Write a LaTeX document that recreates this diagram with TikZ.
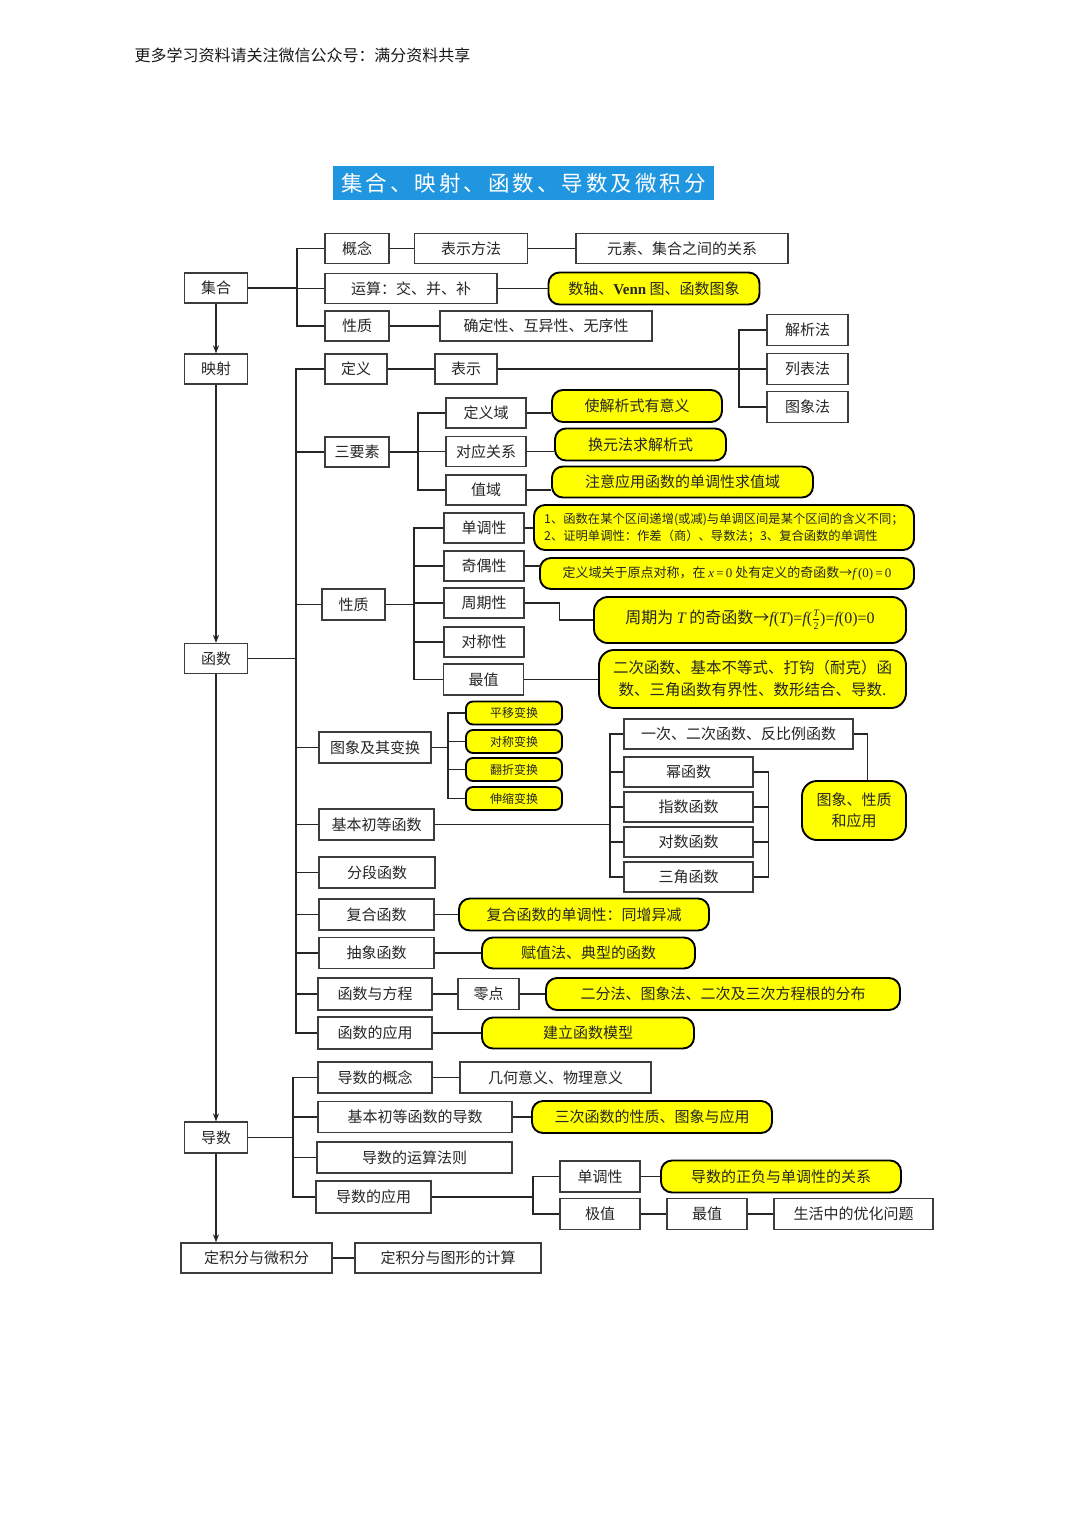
\documentclass[tikz,border=0pt]{standalone}
\usepackage{fontspec}
\setmainfont{Noto Sans CJK SC}
\newfontfamily\latinserif{Liberation Serif}
\newcommand\vi[1]{{\latinserif\itshape #1}}
\newcommand\vr[1]{{\latinserif #1}}
\usetikzlibrary{arrows.meta,calc}
\definecolor{titleblue}{RGB}{33,150,224}
\definecolor{hlyellow}{RGB}{255,255,0}
\definecolor{boxline}{RGB}{60,60,60}
\tikzset{
  sz/.style 2 args={minimum width=#1pt, minimum height=#2pt},
  plainbox/.style={draw=boxline, line width=1.3pt, fill=white, inner sep=0pt,
    font=\fontsize{15}{18}\selectfont, text=black!85},
  hlbox/.style={draw=black, line width=1.9pt, fill=hlyellow, rounded corners=11pt,
    inner sep=0pt, font=\fontsize{15}{18}\selectfont, text=black!85},
  smallhl/.style={hlbox, rounded corners=7pt, font=\fontsize{12}{14}\selectfont},
  conn/.style={draw=black!85, line width=1.3pt},
  mainarrow/.style={conn, -{Stealth[length=8pt,width=6pt]}},
}
\begin{document}
\begin{tikzpicture}[x=1pt,y=-1pt]
\fill[white] (0,0) rectangle (1080,1527);
\useasboundingbox (0,0) rectangle (1080,1527);

% header and title
\node[font=\fontsize{16}{19}\selectfont, text=black!90, inner sep=0pt] (header) at (302.5,55) {更多学习资料请关注微信公众号：满分资料共享};
\node[fill=titleblue, sz={381}{34}, inner sep=0pt, text=white,
  font=\fontsize{21.5}{24}\selectfont\addfontfeatures{LetterSpace=14}] (title) at (523.5,183) {集合、映射、函数、导数及微积分};

% main column
\node[plainbox, sz={63}{30}] (jihe) at (216,288) {集合};
\node[plainbox, sz={63}{30}] (yingshe) at (216,369) {映射};
\node[plainbox, sz={63}{30}] (hanshu) at (216,658.5) {函数};
\node[plainbox, sz={63}{31}] (daoshu) at (216,1137.5) {导数};
\node[plainbox, sz={151}{30}] (dingjifen) at (256.5,1258) {定积分与微积分};
\node[plainbox, sz={186}{30}] (txjs) at (448,1258) {定积分与图形的计算};

% set branch
\node[plainbox, sz={64}{30}] (gainian) at (357,248.5) {概念};
\node[plainbox, sz={113}{30}] (biaoshi1) at (471,248.5) {表示方法};
\node[plainbox, sz={212}{30}] (yuansu) at (682,248.5) {元素、集合之间的关系};
\node[plainbox, sz={172}{30}] (yunsuan) at (411,288.5) {运算：交、并、补};
\node[hlbox, sz={211}{32}] (yvenn) at (654,288.5) {数轴、{\latinserif\bfseries Venn} 图、函数图象};
\node[plainbox, sz={64}{30}] (xingzhi1) at (357,326) {性质};
\node[plainbox, sz={212}{30}] (queding) at (546,326) {确定性、互异性、无序性};

% mapping / definition
\node[plainbox, sz={62}{30}] (dingyi) at (356,369) {定义};
\node[plainbox, sz={62}{30}] (biaoshi2) at (466,369) {表示};
\node[plainbox, sz={81}{31}] (jiexi) at (807.5,330) {解析法};
\node[plainbox, sz={81}{31}] (liebiao) at (807.5,369) {列表法};
\node[plainbox, sz={81}{31}] (tuxfa) at (807.5,407) {图象法};

% three elements
\node[plainbox, sz={64}{30}] (sanyaosu) at (357,452) {三要素};
\node[plainbox, sz={80}{30}] (dingyiyu) at (486,413) {定义域};
\node[plainbox, sz={80}{30}] (duiying) at (486,451.5) {对应关系};
\node[plainbox, sz={80}{30}] (zhiyu) at (486,490) {值域};
\node[hlbox, sz={170}{32}] (yone) at (637,406) {使解析式有意义};
\node[hlbox, sz={171}{32}] (ytwo) at (640.5,444.5) {换元法求解析式};
\node[hlbox, sz={261}{31}] (ythree) at (682.5,482) {注意应用函数的单调性求值域};

% properties
\node[plainbox, sz={63}{31}] (xingzhi2) at (353.5,604.5) {性质};
\node[plainbox, sz={80}{30}] (dandiao) at (484,528) {单调性};
\node[plainbox, sz={80}{30}] (jiou) at (484,566) {奇偶性};
\node[plainbox, sz={80}{30}] (zhouqi) at (484,603) {周期性};
\node[plainbox, sz={80}{30}] (duicheng) at (484,642) {对称性};
\node[plainbox, sz={80}{31}] (zuizhi) at (483.5,679.5) {最值};
\node[hlbox, sz={380}{45}, align=left, font=\fontsize{12.3}{17}\selectfont] (yd) at (724,527.5)
  {1、函数在某个区间递增(或减)与单调区间是某个区间的含义不同；\\2、证明单调性：作差（商）、导数法；3、复合函数的单调性};
\node[hlbox, sz={374}{31}, font=\fontsize{13}{15}\selectfont] (yj) at (727,573.5)
  {定义域关于原点对称，在 \vi{x}\vr{\,=\,0} 处有定义的奇函数→\vi{f}\vr{\,(0)\,=\,0}};
\node[hlbox, rounded corners=14pt, sz={312}{46}, font=\fontsize{16}{18}\selectfont] (yz) at (750,620)
  {周期为 \vi{T} 的奇函数→\vi{f}\vr{(}\vi{T}\vr{)=}\vi{f}\vr{(}$\frac{\mbox{\fontsize{10}{10}\selectfont\vi{T}}}{\mbox{\fontsize{10}{10}\selectfont\vr{2}}}$\vr{)=}\vi{f}\vr{(0)=0}};
\node[hlbox, rounded corners=15pt, sz={307}{58}, align=center, font=\fontsize{15.5}{22}\selectfont] (yzz) at (752.5,679)
  {二次函数、基本不等式、打钩（耐克）函\\数、三角函数有界性、数形结合、导数.};

% graph transformations
\node[plainbox, sz={112}{31}] (tuxiang) at (375,747.5) {图象及其变换};
\node[smallhl, sz={96}{23}] (pingyi) at (514,713) {平移变换};
\node[smallhl, sz={96}{23}] (duichengbh) at (514,741.5) {对称变换};
\node[smallhl, sz={96}{23}] (fanzhe) at (514,769.5) {翻折变换};
\node[smallhl, sz={96}{23}] (shensuo) at (514,798.5) {伸缩变换};

% basic elementary functions
\node[plainbox, sz={115}{31}] (jiben) at (376.5,824.5) {基本初等函数};
\node[plainbox, sz={229}{30}] (yici) at (738.5,734) {一次、二次函数、反比例函数};
\node[plainbox, sz={129}{30}] (mi) at (688.5,772) {幂函数};
\node[plainbox, sz={129}{30}] (zhishu) at (688.5,807) {指数函数};
\node[plainbox, sz={129}{30}] (duishu) at (688.5,842) {对数函数};
\node[plainbox, sz={129}{30}] (sanjiao) at (688.5,877) {三角函数};
\node[hlbox, rounded corners=15pt, sz={104}{59}, align=center, font=\fontsize{15}{21}\selectfont] (ytx) at (854,810.5) {图象、性质\\和应用};

% other function topics
\node[plainbox, sz={116}{31}] (fenduan) at (377,872.5) {分段函数};
\node[plainbox, sz={115}{31}] (fuhe) at (376.5,914.5) {复合函数};
\node[hlbox, sz={250}{32}] (yfuhe) at (584,914.5) {复合函数的单调性：同增异减};
\node[plainbox, sz={115}{31}] (chouxiang) at (376.5,953) {抽象函数};
\node[hlbox, sz={213}{31}] (ychou) at (588.5,953) {赋值法、典型的函数};
\node[plainbox, sz={114}{32}] (fangcheng) at (375,994) {函数与方程};
\node[plainbox, sz={61}{31}] (lingdian) at (488.5,994) {零点};
\node[hlbox, sz={354}{32}] (yerfen) at (723,994) {二分法、图象法、二次及三次方程根的分布};
\node[plainbox, sz={114}{32}] (yingyong) at (375,1033) {函数的应用};
\node[hlbox, sz={212}{31}] (yjianli) at (588,1033) {建立函数模型};

% derivative
\node[plainbox, sz={114}{31}] (dgn) at (375,1077.5) {导数的概念};
\node[plainbox, sz={191}{31}] (jhyy) at (555.5,1077.5) {几何意义、物理意义};
\node[plainbox, sz={194}{31}] (djb) at (415,1117) {基本初等函数的导数};
\node[hlbox, sz={240}{32}] (ysanci) at (652,1117) {三次函数的性质、图象与应用};
\node[plainbox, sz={195}{31}] (dys) at (414.5,1157.5) {导数的运算法则};
\node[plainbox, sz={115}{32}] (dyy) at (373.5,1197) {导数的应用};
\node[plainbox, sz={80}{31}] (ddd) at (600,1176.5) {单调性};
\node[hlbox, sz={240}{32}] (yzf) at (781,1176.5) {导数的正负与单调性的关系};
\node[plainbox, sz={80}{31}] (jz) at (600,1214) {极值};
\node[plainbox, sz={80}{31}] (zz) at (707,1214) {最值};
\node[plainbox, sz={159}{31}] (shz) at (853.5,1214) {生活中的优化问题};

% ---------- connectors ----------
\draw[mainarrow] (jihe.south) -- (yingshe.north);
\draw[mainarrow] (yingshe.south) -- (hanshu.north);
\draw[mainarrow] (hanshu.south) -- (daoshu.north);
\draw[mainarrow] (daoshu.south) -- (daoshu.south |- dingjifen.north);
\draw[conn] (dingjifen.east) -- (txjs.west);

% set bus
\coordinate (bA) at (297,288);
\draw[conn] (jihe.east) -- (bA);
\draw[conn] (bA) |- (gainian.west);
\draw[conn] (bA) |- (yunsuan.west);
\draw[conn] (bA) |- (xingzhi1.west);
\draw[conn] (gainian.east) -- (biaoshi1.west);
\draw[conn] (biaoshi1.east) -- (yuansu.west);
\draw[conn] (yunsuan.east) -- (yvenn.west);
\draw[conn] (xingzhi1.east) -- (queding.west);

% function bus
\coordinate (bB) at (296,658.5);
\draw[conn] (hanshu.east) -- (bB);
\foreach \c in {dingyi,sanyaosu,xingzhi2,tuxiang,jiben,fenduan,fuhe,chouxiang,fangcheng,yingyong}
  \draw[conn] (bB) |- (\c.west);

% representation
\draw[conn] (dingyi.east) -- (biaoshi2.west);
\draw[conn] (biaoshi2.east) -- (liebiao.west);
\coordinate (bC) at (739,369);
\draw[conn] (bC) |- (jiexi.west);
\draw[conn] (bC) |- (tuxfa.west);

% three elements
\coordinate (bD) at (418,452);
\draw[conn] (sanyaosu.east) -- (bD);
\draw[conn] (bD) |- (dingyiyu.west);
\draw[conn] (bD) |- (duiying.west);
\draw[conn] (bD) |- (zhiyu.west);
\draw[conn] (dingyiyu.east) -- (dingyiyu.east -| yone.west);
\draw[conn] (duiying.east) -- (duiying.east -| ytwo.west);
\draw[conn] (zhiyu.east) -- (zhiyu.east -| ythree.west);

% properties
\coordinate (bE) at (414,604.5);
\draw[conn] (xingzhi2.east) -- (bE);
\foreach \c in {dandiao,jiou,zhouqi,duicheng,zuizhi}
  \draw[conn] (bE) |- (\c.west);
\draw[conn] (dandiao.east) -- (dandiao.east -| yd.west);
\draw[conn] (jiou.east) -- ($(jiou.east -| yj.west)+(2,0)$);
\draw[conn] (zhouqi.east) -- ++(35,0) |- (yz.west);
\draw[conn] (zuizhi.east) -- (zuizhi.east -| yzz.west);

% transformations
\coordinate (bF) at (448,747.5);
\draw[conn] (tuxiang.east) -- (bF);
\foreach \c in {pingyi,duichengbh,fanzhe,shensuo}
  \draw[conn] (bF) |- (\c.west);

% basic elementary functions
\coordinate (bG) at (610,824.5);
\draw[conn] (jiben.east) -- (bG);
\foreach \c in {yici,mi,zhishu,duishu,sanjiao}
  \draw[conn] (bG) |- (\c.west);
\draw[conn] (mi.east) -- ++(15,0) |- (sanjiao.east);
\draw[conn] (zhishu.east) -- ++(15,0);
\draw[conn] (duishu.east) -- ++(15,0);
\draw[conn] (yici.east) -- ++(14,0) coordinate (tc) -- (tc |- ytx.north);

% other topics
\draw[conn] (fuhe.east) -- (yfuhe.west);
\draw[conn] (chouxiang.east) -- (ychou.west);
\draw[conn] (fangcheng.east) -- (lingdian.west);
\draw[conn] (lingdian.east) -- (yerfen.west);
\draw[conn] (yingyong.east) -- (yjianli.west);

% derivative bus
\coordinate (bH) at (293,1137.5);
\draw[conn] (daoshu.east) -- (bH);
\foreach \c in {dgn,djb,dys,dyy}
  \draw[conn] (bH) |- (\c.west);
\draw[conn] (dgn.east) -- (jhyy.west);
\draw[conn] (djb.east) -- (ysanci.west);
\coordinate (bI) at (533,1197);
\draw[conn] (dyy.east) -- (bI);
\draw[conn] (bI) |- (ddd.west);
\draw[conn] (bI) |- (jz.west);
\draw[conn] (ddd.east) -- (yzf.west);
\draw[conn] (jz.east) -- (zz.west);
\draw[conn] (zz.east) -- (shz.west);
\end{tikzpicture}
\end{document}
